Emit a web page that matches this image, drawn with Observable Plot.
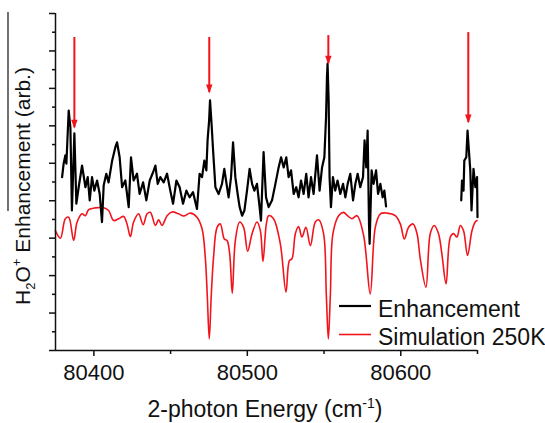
<!DOCTYPE html>
<html><head><meta charset="utf-8">
<script src="https://cdn.jsdelivr.net/npm/d3@7"></script>
<script src="https://cdn.jsdelivr.net/npm/@observablehq/plot@0.6"></script>
<style>
html,body{margin:0;padding:0;background:#fff;}
#chart{width:545px;height:423px;}
</style></head>
<body><div id="chart"></div>
<script>
// Enhancement trace, segment A (cm^-1, arb.)
const enhAX = [80379.3,80380.3,80381.4,80382.1,80383.6,80384.7,80385.7,80387.3,80388.6,80390.1,80392.3,80394.5,80396.0,80397.3,80398.8,80400.3,80402.1,80403.8,80405.3,80406.4,80408.1,80409.6,80411.9,80414.0,80415.1,80416.8,80418.4,80420.5,80422.7,80424.2,80425.9,80428.1,80429.8,80432.1,80434.2,80436.4,80438.6,80440.1,80441.6,80443.3,80445.5,80447.7,80449.8,80451.6,80453.8,80455.9,80458.1,80460.3,80462.4,80464.6,80467.2,80468.9,80470.5,80472.0,80473.3,80474.1,80475.1,80475.7,80476.7,80477.7,80479.2,80481.3,80483.5,80485.0,80486.8,80487.8,80489.4,80490.7,80492.2,80493.7,80495.0,80496.6,80498.1,80499.8,80501.5,80503.1,80504.6,80506.3,80508.0,80508.9,80510.6,80512.2,80513.9,80516.1,80518.3,80520.4,80522.0,80523.7,80525.4,80526.9,80528.5,80530.2,80531.9,80533.4,80535.0,80536.7,80538.4,80539.9,80541.5,80543.2,80545.4,80547.1,80548.7,80550.2,80551.3,80551.9,80552.3,80553.0,80553.6,80554.5,80555.8,80557.3,80558.8,80560.6,80562.4,80563.9,80565.4,80567.1,80568.9,80570.4,80571.9,80573.6,80575.4,80576.4,80577.5,80578.4,80579.3,80579.7,80581.0,80582.3,80583.9,80585.2,80586.7,80588.2,80589.3,80590.4];
const enhAY = [4.63,4.99,5.21,4.99,6.41,5.96,3.74,5.80,3.92,4.36,4.94,4.36,4.63,4.01,4.63,4.27,4.54,4.18,3.43,4.41,4.72,4.49,5.07,5.43,5.56,5.16,4.36,4.54,3.83,5.16,4.54,4.72,4.18,4.49,4.01,4.54,4.76,4.94,4.45,4.63,4.49,4.72,4.27,3.92,4.54,4.36,3.92,4.27,4.09,4.23,3.78,4.72,4.63,5.07,4.81,5.61,6.14,6.68,6.05,5.34,4.36,4.18,4.45,4.85,4.36,4.09,4.63,5.56,4.63,4.18,3.83,3.60,3.74,4.27,4.85,4.45,4.27,4.45,3.83,3.47,5.30,4.09,3.83,4.01,4.45,4.89,5.16,4.89,5.16,4.63,4.81,4.18,4.36,4.09,4.54,4.18,4.72,4.09,4.63,4.18,5.21,4.27,4.89,5.16,6.23,7.30,7.66,6.68,4.63,3.83,4.63,4.27,4.54,4.18,4.45,4.09,4.45,4.72,4.01,4.45,4.72,4.36,4.63,5.61,4.89,5.87,3.38,2.85,4.81,4.45,4.81,4.18,4.45,4.09,4.27,3.85];
// Enhancement trace, segment B
const enhBX = [80639.4,80639.9,80640.9,80641.4,80642.7,80643.5,80644.4,80645.3,80646.1,80647.4,80648.6,80649.7,80650.0];
const enhBY = [4.01,4.54,4.27,5.07,5.16,5.87,5.34,4.81,3.74,4.85,4.36,4.63,3.56];
// Simulation 250K
const simX = [80374.9,80378.2,80381.4,80383.6,80386.8,80389.1,80392.3,80394.5,80396.6,80401.0,80406.4,80409.6,80412.9,80416.2,80419.4,80421.6,80423.8,80425.9,80429.2,80432.1,80434.7,80436.8,80440.1,80442.2,80444.4,80447.7,80450.9,80455.2,80458.5,80462.9,80467.2,80470.5,80472.6,80473.9,80475.2,80476.5,80478.0,80480.3,80482.4,80485.0,80486.8,80488.5,80490.2,80492.2,80495.0,80497.6,80500.2,80503.1,80506.3,80508.5,80510.2,80512.4,80513.9,80517.1,80521.5,80525.2,80527.4,80529.1,80531.3,80533.4,80535.6,80538.2,80541.1,80544.3,80546.5,80549.7,80551.5,80552.8,80554.1,80555.8,80559.5,80562.7,80565.3,80568.2,80571.5,80575.8,80580.1,80583.4,80586.7,80591.0,80596.4,80599.7,80602.3,80605.1,80608.0,80610.6,80612.7,80616.4,80619.2,80621.8,80624.6,80626.9,80629.5,80632.3,80634.4,80636.6,80638.8,80640.9,80643.5,80646.4,80648.5,80649.7];
const simY = [3.20,3.00,3.52,3.56,2.94,3.43,3.65,3.60,3.76,3.81,3.81,3.74,3.47,3.52,3.58,3.38,3.04,3.43,3.65,3.36,3.65,3.69,3.34,3.49,3.34,3.60,3.70,3.65,3.59,3.67,3.56,3.25,2.49,1.47,0.31,1.47,2.49,3.29,3.38,2.98,2.94,2.58,1.53,2.94,3.43,3.29,2.65,3.12,3.43,3.20,2.38,3.38,3.60,3.52,2.85,1.56,2.40,2.45,3.12,3.31,3.03,3.29,2.80,3.43,3.49,3.12,1.47,0.31,1.47,3.12,3.60,3.69,3.60,3.52,3.60,3.07,1.51,3.29,3.65,3.67,3.60,3.38,2.98,3.29,3.38,3.12,2.45,1.69,3.12,3.34,3.12,2.54,1.78,3.03,3.12,3.03,3.34,3.20,2.54,3.20,3.43,3.47];
// Arrows marking assigned peaks
const arrowX = [80387.3,80475.2,80552.8,80644.0];
const arrowTop = [8.36,8.36,8.41,8.49];
const arrowTip = [5.95,6.89,7.66,6.09];
// Axis ticks
const xMajor = [80400,80500,80600];
const xMinor = [80450,80550,80650];
const yMajor = [0,1,2,3,4,5,6,7,8,9];
const yMinor = [0.5,1.5,2.5,3.5,4.5,5.5,6.5,7.5,8.5];
const xDomain = [80375,80650];
const yDomain = [0,9];
const legendLabels = ["Enhancement", "Simulation 250K"];

const enh = [
  ...enhAX.map((x,i)=>({x, y: enhAY[i], seg: "A"})),
  ...enhBX.map((x,i)=>({x, y: enhBY[i], seg: "B"}))
];
const sim = simX.map((x,i)=>({x, y: simY[i]}));
const arrows = arrowX.map((x,i)=>({x, top: arrowTop[i], tip: arrowTip[i]}));

const RED = "#f2141c";
const headSymbol = {draw(ctx){ ctx.moveTo(0,1); ctx.lineTo(-3.2,-8); ctx.lineTo(3.2,-8); ctx.closePath(); }};
const font = "'Liberation Sans', Arial, sans-serif";

const chart = Plot.plot({
  width: 545, height: 423,
  marginTop: 13, marginLeft: 55, marginRight: 68, marginBottom: 73,
  style: {fontFamily: font, background: "#fff", color: "#111"},
  x: {domain: xDomain, label: null},
  y: {domain: yDomain, label: null},
  marks: [
    Plot.line(sim, {x: "x", y: "y", stroke: RED, strokeWidth: 1.6, curve: "catmull-rom"}),
    Plot.line(enh, {x: "x", y: "y", z: "seg", stroke: "#000", strokeWidth: 2.2, strokeLinejoin: "round"}),
    Plot.ruleX(arrows, {x: "x", y1: "top", y2: "tip", stroke: RED, strokeWidth: 2}),
    Plot.dot(arrows, {x: "x", y: "tip", symbol: headSymbol, fill: RED, stroke: "none", r: 4}),
    Plot.axisX({ticks: xMajor, tickSize: 6, tickFormat: () => "", label: null, strokeWidth: 1.5}),
    Plot.axisX({ticks: xMinor, tickSize: 4, tickFormat: () => "", label: null, strokeWidth: 1.5}),
    Plot.text(xMajor, {x: d => d, y: yDomain[0], text: d3.format("d"), fontSize: 22, lineAnchor: "top", dy: 14, fill: "#111"}),
    Plot.axisY({ticks: yMajor, tickSize: 6, tickFormat: () => "", label: null, strokeWidth: 1.5}),
    Plot.axisY({ticks: yMinor, tickSize: 3, tickFormat: () => "", label: null, strokeWidth: 1.5}),
    Plot.ruleY([yDomain[0]], {stroke: "#111", strokeWidth: 1.5}),
    Plot.ruleX([xDomain[0]], {stroke: "#111", strokeWidth: 1.5})
  ]
});
document.getElementById("chart").appendChild(chart);

const svg = d3.select(chart);
// y-axis title
const yt = svg.append("text")
  .attr("transform", "translate(30,186) rotate(-90)")
  .attr("text-anchor", "middle").attr("font-family", font).attr("font-size", 21).attr("fill", "#111");
yt.append("tspan").text("H");
yt.append("tspan").attr("font-size", 13).attr("dy", 5).text("2");
yt.append("tspan").attr("dy", -5).text("O");
yt.append("tspan").attr("font-size", 13).attr("dy", -9).text("+");
yt.append("tspan").attr("dy", 9).text(" Enhancement (arb.)");
// overline stroke beside the title
svg.append("line").attr("x1", 8).attr("x2", 8).attr("y1", 12).attr("y2", 211).attr("stroke", "#111").attr("stroke-width", 1.2);
// x-axis title
const xt = svg.append("text")
  .attr("x", 265).attr("y", 417)
  .attr("text-anchor", "middle").attr("font-family", font).attr("font-size", 23).attr("fill", "#111");
xt.append("tspan").text("2-photon Energy (cm");
xt.append("tspan").attr("font-size", 14).attr("dy", -9).text("-1");
xt.append("tspan").attr("dy", 9).text(")");
// legend
const leg = [{label: legendLabels[0], color: "#000", w: 2.2, y: 306}, {label: legendLabels[1], color: RED, w: 1.6, y: 334.5}];
leg.forEach(d => {
  svg.append("line").attr("x1", 339).attr("x2", 371).attr("y1", d.y).attr("y2", d.y).attr("stroke", d.color).attr("stroke-width", d.w);
  svg.append("text").attr("x", 378).attr("y", d.y + 10.5).attr("text-anchor", "start")
    .attr("font-family", font).attr("font-size", 23).attr("fill", "#111").text(d.label);
});
</script>
</body></html>
